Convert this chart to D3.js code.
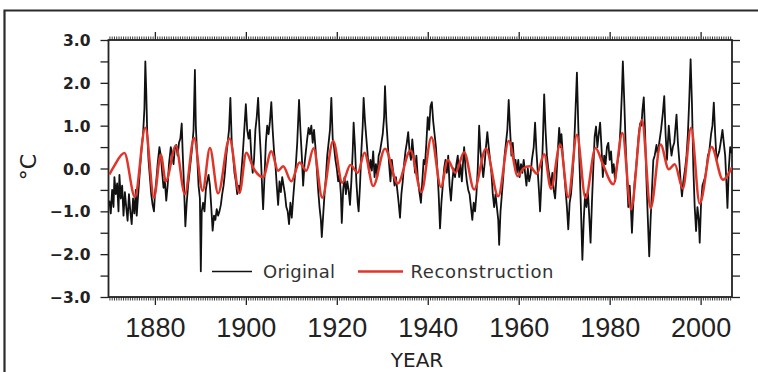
<!DOCTYPE html>
<html><head><meta charset="utf-8">
<script src="https://cdn.jsdelivr.net/npm/d3@7"></script>
<style>html,body{margin:0;padding:0;background:#fff;}svg{display:block;}</style>
</head><body>
<script>
// ---------- data ----------
const origYears = [1870.0,1870.3,1870.6,1870.9,1871.1,1871.4,1871.7,1872.0,1872.2,1872.5,1872.8,1873.1,1873.4,1873.7,1874.0,1874.3,1874.6,1874.9,1875.2,1875.5,1875.8,1876.0,1876.2,1876.5,1876.8,1877.1,1877.4,1877.7,1877.9,1878.1,1878.3,1878.6,1878.9,1879.2,1879.5,1879.8,1880.0,1880.3,1880.6,1881.0,1881.3,1881.6,1881.9,1882.2,1882.5,1882.8,1883.1,1883.5,1883.8,1884.1,1884.4,1884.7,1885.0,1885.3,1885.6,1885.9,1886.1,1886.4,1886.7,1887.0,1887.3,1887.6,1887.9,1888.2,1888.5,1888.8,1889.0,1889.3,1889.6,1889.9,1890.1,1890.3,1890.6,1890.9,1891.2,1891.5,1891.8,1892.1,1892.4,1892.7,1893.0,1893.3,1893.6,1893.9,1894.2,1894.5,1894.8,1895.1,1895.4,1895.7,1896.0,1896.3,1896.6,1896.9,1897.2,1897.5,1897.8,1898.1,1898.4,1898.7,1899.0,1899.3,1899.6,1900.0,1900.3,1900.6,1900.9,1901.2,1901.5,1901.8,1902.1,1902.4,1902.7,1903.0,1903.3,1903.6,1903.8,1904.1,1904.4,1904.7,1905.0,1905.3,1905.6,1905.9,1906.2,1906.5,1906.8,1907.1,1907.4,1907.7,1908.0,1908.3,1908.6,1908.9,1909.2,1909.5,1909.8,1910.1,1910.4,1910.7,1911.0,1911.3,1911.7,1912.0,1912.3,1912.6,1912.9,1913.2,1913.5,1913.8,1914.1,1914.4,1914.7,1915.0,1915.3,1915.6,1915.9,1916.2,1916.5,1916.7,1917.0,1917.3,1917.6,1917.9,1918.2,1918.5,1918.8,1919.1,1919.4,1919.7,1920.0,1920.3,1920.6,1920.9,1921.1,1921.4,1921.7,1922.0,1922.3,1922.6,1922.9,1923.2,1923.5,1923.7,1924.0,1924.3,1924.6,1924.8,1925.1,1925.4,1925.7,1925.9,1926.2,1926.5,1926.8,1927.1,1927.4,1927.7,1928.0,1928.3,1928.6,1928.9,1929.2,1929.5,1929.8,1930.1,1930.4,1930.6,1930.9,1931.2,1931.5,1931.8,1932.1,1932.4,1932.7,1933.0,1933.3,1933.6,1933.9,1934.2,1934.5,1934.8,1935.1,1935.4,1935.7,1936.0,1936.3,1936.6,1936.9,1937.2,1937.5,1937.8,1938.1,1938.5,1938.8,1939.1,1939.4,1939.7,1940.0,1940.3,1940.6,1940.9,1941.2,1941.5,1941.8,1942.1,1942.4,1942.7,1943.0,1943.3,1943.6,1943.9,1944.2,1944.5,1944.8,1945.1,1945.4,1945.7,1946.0,1946.3,1946.6,1946.9,1947.2,1947.5,1947.8,1948.0,1948.3,1948.6,1948.9,1949.2,1949.5,1949.8,1950.1,1950.4,1950.7,1951.0,1951.3,1951.6,1951.9,1952.2,1952.5,1952.8,1953.1,1953.4,1953.7,1954.0,1954.3,1954.6,1954.9,1955.2,1955.5,1955.7,1956.0,1956.3,1956.6,1956.9,1957.2,1957.5,1957.8,1958.1,1958.4,1958.7,1959.0,1959.3,1959.6,1959.9,1960.2,1960.5,1960.8,1961.1,1961.4,1961.7,1962.0,1962.3,1962.6,1962.9,1963.3,1963.6,1963.9,1964.2,1964.5,1964.7,1965.0,1965.3,1965.6,1965.9,1966.2,1966.5,1966.8,1967.1,1967.4,1967.7,1968.0,1968.3,1968.6,1968.9,1969.2,1969.4,1969.7,1970.0,1970.3,1970.6,1970.9,1971.2,1971.5,1971.8,1972.1,1972.4,1972.8,1973.1,1973.4,1973.7,1974.0,1974.3,1974.6,1974.9,1975.2,1975.5,1975.8,1976.1,1976.4,1976.7,1977.0,1977.3,1977.6,1977.9,1978.2,1978.5,1978.8,1979.1,1979.4,1979.7,1980.0,1980.3,1980.6,1980.9,1981.2,1981.5,1981.8,1982.1,1982.4,1982.7,1982.9,1983.2,1983.5,1983.8,1984.1,1984.4,1984.7,1984.9,1985.2,1985.5,1985.8,1986.1,1986.4,1986.7,1987.0,1987.2,1987.5,1987.8,1988.1,1988.4,1988.7,1989.0,1989.3,1989.6,1989.9,1990.3,1990.6,1990.9,1991.3,1991.7,1992.0,1992.3,1992.6,1993.0,1993.3,1993.6,1993.9,1994.2,1994.7,1995.0,1995.3,1995.6,1995.9,1996.2,1996.6,1996.9,1997.2,1997.5,1997.8,1998.1,1998.4,1998.7,1999.0,1999.3,1999.6,1999.8,2000.1,2000.4,2000.7,2001.0,2001.3,2001.6,2001.9,2002.3,2002.6,2002.9,2003.2,2003.5,2003.8,2004.1,2004.4,2004.8,2005.1,2005.4,2005.7,2005.9,2006.2,2006.5,2006.9];
const origValues = [-0.75,-1.05,-0.5,-0.9,-0.2,-0.6,-0.35,-1.0,-0.15,-0.7,-0.4,-1.1,-0.55,-0.9,-1.22,-0.6,-1.0,-1.3,-0.7,-1.05,-0.5,-1.1,-0.8,-0.35,0.1,0.5,0.8,1.4,2.5,1.8,0.9,0.2,-0.2,-0.6,-0.85,-1.0,-0.6,-0.3,0.1,0.5,0.3,-0.1,-0.45,-0.3,-0.75,-0.4,0.1,0.5,0.3,0.1,0.5,0.55,0.3,0.6,0.7,1.05,0.4,-0.4,-1.35,-0.8,-0.4,-0.1,0.2,0.5,0.9,2.3,1.0,0.3,-0.4,-0.7,-2.4,-1.0,-0.8,-1.0,-0.5,-0.3,-0.15,-0.4,-0.9,-1.45,-1.1,-1.2,-0.95,-1.1,-1.0,-0.85,-0.6,-0.4,-0.1,0.3,0.6,0.9,1.65,0.6,0.3,-0.1,-0.3,-0.6,-0.4,-0.55,-0.1,0.3,0.8,1.5,0.9,0.7,0.9,0.3,-0.1,0.2,0.9,1.2,1.65,0.9,0.3,-0.5,-0.95,-0.2,0.6,1.0,0.8,1.1,1.55,0.9,0.4,0.1,-0.4,-0.85,-0.3,-0.55,-0.2,-0.4,-0.6,-0.9,-1.0,-1.3,-0.8,-1.15,-0.7,-0.3,0.1,0.6,1.6,0.9,0.3,-0.4,0.1,0.4,0.7,0.95,0.8,1.0,0.6,0.9,0.5,0.0,-0.5,-0.9,-1.2,-1.6,-1.1,-0.6,-0.2,0.3,0.6,0.9,1.65,0.7,0.5,0.2,0.0,-0.3,-0.15,-0.6,-1.27,-0.5,-0.2,-0.6,-0.3,-0.5,-0.85,-0.3,0.4,1.07,0.5,-0.3,-0.8,-1.0,-0.4,0.4,1.0,1.65,1.1,0.7,0.3,-0.1,0.2,-0.05,0.4,-0.2,0.1,-0.2,0.3,0.4,0.6,0.8,1.2,1.92,1.1,0.6,0.1,-0.3,0.2,-0.1,-0.4,-0.2,-0.5,-0.8,-1.15,-0.6,-0.3,0.1,0.4,0.6,0.85,0.4,0.2,0.68,0.3,-0.1,0.3,-0.2,-0.5,-0.8,-0.3,0.2,0.1,0.6,1.2,0.9,1.45,1.55,1.1,0.8,0.5,0.0,-0.6,-1.4,-0.8,-0.4,0.0,0.2,-0.1,0.3,-0.4,-0.75,-0.3,0.0,-0.2,0.1,0.3,-0.2,0.1,-0.3,0.2,0.5,0.0,-0.3,-0.5,-0.6,-0.9,-1.2,-0.8,-1.0,-0.6,0.0,1.0,0.4,0.1,-0.2,0.1,0.5,0.85,0.5,0.2,-0.1,-0.6,-0.9,-0.6,-0.9,-1.2,-1.78,-1.0,-0.6,-0.2,0.3,0.6,0.9,1.6,0.9,0.3,0.6,0.1,0.2,-0.1,0.2,-0.2,0.1,-0.1,0.2,-0.1,-0.4,0.0,-0.3,-0.15,0.2,0.5,1.07,0.4,-0.1,-0.6,-1.0,-0.3,0.6,1.73,0.9,0.3,0.0,-0.2,-0.4,-0.1,-0.5,-0.7,-0.2,0.4,0.95,0.5,0.8,0.3,-0.1,-0.5,-0.9,-1.42,-0.8,-0.6,-0.2,0.3,1.1,2.24,1.0,0.0,-1.0,-2.13,-1.2,-0.6,-0.9,-0.5,-1.1,-1.73,-0.8,0.0,0.75,0.98,0.5,0.8,1.07,0.5,-0.2,0.3,0.1,0.5,0.6,0.2,0.4,-0.1,0.1,-0.3,0.0,0.2,0.4,1.0,1.8,2.5,1.6,0.6,-0.2,-0.9,-0.4,-1.0,-1.5,-0.8,-0.3,0.0,0.4,0.8,1.05,1.0,1.35,1.66,0.8,-0.3,-1.2,-2.05,-1.2,-0.5,0.2,0.3,0.55,0.3,0.6,0.9,1.3,1.69,0.8,0.2,1.0,0.6,0.3,0.5,0.6,1.26,0.6,0.2,-0.3,-0.65,-0.3,0.0,0.3,0.8,1.6,2.55,1.5,0.0,-0.9,-1.46,-0.9,-1.2,-1.73,-0.8,-0.4,-0.3,-0.2,0.0,0.3,0.4,0.8,1.0,1.54,0.8,0.2,0.3,0.4,0.6,0.9,0.6,0.3,-0.4,-0.92,0.0,0.5,0.35];

const reconYears = [1870.0,1871.0,1873.3,1875.6,1877.9,1879.8,1881.3,1882.4,1884.6,1886.6,1888.6,1890.5,1892.1,1893.9,1896.4,1898.6,1900.1,1901.7,1903.8,1905.6,1907.1,1908.2,1910.0,1911.8,1913.3,1914.9,1916.8,1919.2,1921.2,1923.0,1924.6,1926.1,1928.0,1930.6,1933.4,1936.2,1938.6,1940.8,1942.9,1944.4,1946.1,1948.0,1950.2,1952.8,1955.5,1957.8,1959.8,1961.0,1962.4,1964.0,1965.6,1967.1,1969.1,1970.9,1972.8,1974.7,1976.9,1978.5,1980.8,1982.8,1984.7,1987.1,1989.0,1991.2,1993.0,1994.3,1996.1,1997.9,1999.8,2002.4,2004.9,2006.9];
const reconValues = [-0.14,0.05,0.36,-0.66,0.95,-0.68,0.32,-0.3,0.53,-0.6,0.71,-0.52,0.48,-0.58,0.7,-0.57,0.37,0.0,-0.2,0.4,-0.05,0.05,-0.3,0.14,-0.05,0.47,-0.68,0.64,-0.33,0.08,-0.1,0.37,-0.41,0.46,-0.35,0.42,-0.55,0.73,-0.43,0.2,-0.1,0.38,-0.49,0.46,-0.65,0.64,-0.18,0.0,0.05,-0.12,0.33,-0.47,0.56,-0.67,0.79,-0.69,0.48,0.1,-0.37,0.83,-0.95,1.14,-0.93,0.56,-0.02,0.1,-0.47,0.95,-0.82,0.5,-0.26,0.03];

const yTickValues = [-3,-2.5,-2,-1.5,-1,-0.5,0,0.5,1,1.5,2,2.5,3];
const xTickLabels = [1880,1900,1920,1940,1960,1980,2000];
const seriesNames = ["Original","Reconstruction"];

// ---------- layout ----------
const W = 758, H = 372;
const L = 108.5, R = 732, T = 40, B = 297;

const svg = d3.select("body").append("svg").attr("width", W).attr("height", H)
  .style("background", "#fff");

const x = d3.scaleLinear().domain([1869.8, 2006.9]).range([L, R]);
const y = d3.scaleLinear().domain([-3, 3]).range([B, T]);

// outer figure frame
svg.append("path").attr("d", `M4.5,${H} V10.5 H${W}`)
  .attr("fill", "none").attr("stroke", "#2b2b2b").attr("stroke-width", 2.2);

svg.append("clipPath").attr("id", "clip").append("rect")
  .attr("x", L).attr("y", T).attr("width", R - L).attr("height", B - T);

const fmt = d3.format(".1f");
const minorYears = d3.range(1870, 2007, 0.5).filter(v => v % 20 !== 0);

function style(g) {
  g.select(".domain").remove();
  g.selectAll("line").attr("stroke", "#222").attr("stroke-width", 1.3);
}

// left axis
svg.append("g").attr("transform", `translate(${L},0)`)
  .call(d3.axisLeft(y).tickValues(yTickValues).tickSize(8).tickPadding(10)
    .tickFormat(d => Number.isInteger(d) ? fmt(d) : ""))
  .call(style)
  .call(g => g.selectAll("text").attr("font-family", "DejaVu Sans").attr("font-weight", "bold")
    .attr("font-size", 15.5).attr("fill", "#222").attr("dy", "0.36em"));

// right axis
svg.append("g").attr("transform", `translate(${R},0)`)
  .call(d3.axisRight(y).tickValues(yTickValues).tickSize(8).tickFormat(""))
  .call(style);

// top axis major + minor
svg.append("g").attr("transform", `translate(0,${T})`)
  .call(d3.axisTop(x).tickValues(xTickLabels).tickSize(8).tickFormat(""))
  .call(style);
svg.append("g").attr("transform", `translate(0,${T})`)
  .call(d3.axisTop(x).tickValues(minorYears).tickSize(3.5).tickFormat(""))
  .call(style).call(g => g.selectAll("line").attr("stroke-width", 0.9));

// bottom axis major + minor
svg.append("g").attr("transform", `translate(0,${B})`)
  .call(d3.axisBottom(x).tickValues(xTickLabels).tickSize(8).tickPadding(12.8).tickFormat(d => String(d)))
  .call(style)
  .call(g => g.selectAll("text").attr("font-family", "Liberation Sans, Arial, sans-serif")
    .attr("font-size", 27).attr("fill", "#222"));
svg.append("g").attr("transform", `translate(0,${B})`)
  .call(d3.axisBottom(x).tickValues(minorYears).tickSize(3.5).tickFormat(""))
  .call(style).call(g => g.selectAll("line").attr("stroke-width", 0.9));

// plot frame
svg.append("rect").attr("x", L).attr("y", T).attr("width", R - L).attr("height", B - T)
  .attr("fill", "none").attr("stroke", "#222").attr("stroke-width", 1.8);

// series
const origData = origYears.map((d, i) => [d, origValues[i]]);
const reconData = reconYears.map((d, i) => [d, reconValues[i]]);

const plot = svg.append("g").attr("clip-path", "url(#clip)");
plot.append("path").datum(origData)
  .attr("d", d3.line().x(d => x(d[0])).y(d => y(d[1])))
  .attr("fill", "none").attr("stroke", "#111").attr("stroke-width", 1.8)
  .attr("stroke-linejoin", "round");
plot.append("path").datum(reconData)
  .attr("d", d3.line().x(d => x(d[0])).y(d => y(d[1])).curve(d3.curveMonotoneX))
  .attr("fill", "none").attr("stroke", "#e0362a").attr("stroke-width", 2.5)
  .attr("stroke-linejoin", "round");

// legend
const lg = svg.append("g").attr("font-family", "DejaVu Sans").attr("font-size", 18).attr("fill", "#333");
lg.append("line").attr("x1", 212).attr("x2", 252).attr("y1", 271.5).attr("y2", 271.5)
  .attr("stroke", "#111").attr("stroke-width", 1.6);
lg.append("text").attr("x", 263).attr("y", 277.5).attr("textLength", 72).text(seriesNames[0]);
lg.append("line").attr("x1", 358).attr("x2", 403).attr("y1", 271.5).attr("y2", 271.5)
  .attr("stroke", "#e0362a").attr("stroke-width", 2.4);
lg.append("text").attr("x", 410.5).attr("y", 277.5).attr("textLength", 143).text(seriesNames[1]);

// axis titles
svg.append("text").attr("transform", "translate(36,167) rotate(-90)")
  .attr("text-anchor", "middle").attr("font-family", "DejaVu Sans").attr("font-size", 22)
  .attr("fill", "#222").text("°C");
svg.append("text").attr("x", 417).attr("y", 367).attr("text-anchor", "middle")
  .attr("font-family", "DejaVu Sans").attr("font-size", 20).attr("fill", "#222").text("YEAR");
</script>
</body></html>
